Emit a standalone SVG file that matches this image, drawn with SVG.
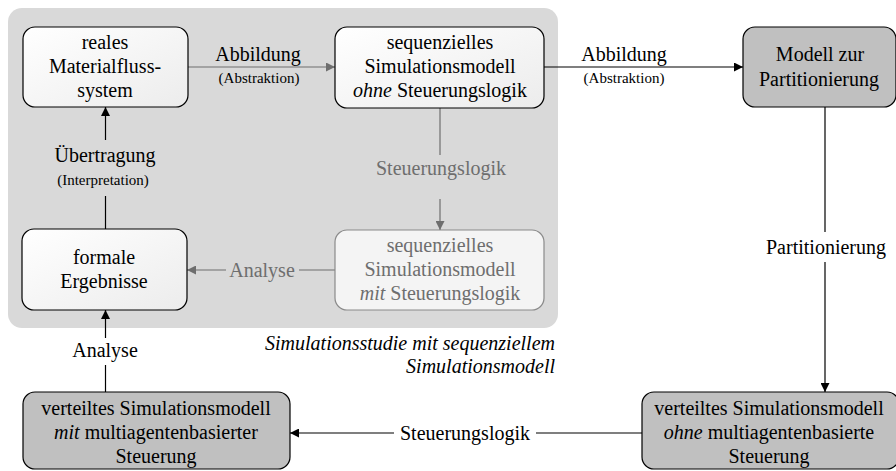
<svg xmlns="http://www.w3.org/2000/svg" width="896" height="471" viewBox="0 0 896 471">
<defs>
<linearGradient id="gw" x1="0" y1="0" x2="1" y2="1">
<stop offset="0" stop-color="#ffffff"/>
<stop offset="1" stop-color="#ececec"/>
</linearGradient>
<marker id="ab" viewBox="0 0 10 10" refX="10" refY="5" markerWidth="9" markerHeight="9" markerUnits="userSpaceOnUse" orient="auto">
<path d="M0,0 L10,5 L0,10 z" fill="#000"/>
</marker>
<marker id="ag" viewBox="0 0 10 10" refX="10" refY="5" markerWidth="9" markerHeight="9" markerUnits="userSpaceOnUse" orient="auto">
<path d="M0,0 L10,5 L0,10 z" fill="#6e6e6e"/>
</marker>
</defs>
<style>
text{font-family:"Liberation Serif","Noto Serif","Nimbus Roman","Nimbus Roman No9 L",FreeSerif,Times,"Noto Serif CJK SC","Noto Serif CJK JP",serif;font-size:20px;text-anchor:middle;fill:#000}
.s{font-size:15px}
.g{fill:#6e6e6e}
.i{font-style:italic}
.c{text-anchor:end;font-style:italic}
.bw{fill:url(#gw);stroke:#000;stroke-width:1.2}
.bg{fill:#f4f4f4;stroke:#8a8a8a;stroke-width:1.2}
.bd{fill:#c0c0c0;stroke:#000;stroke-width:1.2}
.l{fill:none;stroke:#000;stroke-width:1.2}
.lg{fill:none;stroke:#6e6e6e;stroke-width:1.2}
</style>
<g id="container">
<rect x="8" y="8" width="550" height="320" rx="14" fill="#d9d9d9"/>
<text class="c" x="555" y="350">Simulationsstudie mit sequenziellem</text>
<text class="c" x="555" y="373">Simulationsmodell</text>
</g>
<g id="connectors">
<line class="lg" x1="188" y1="67" x2="335" y2="67" marker-end="url(#ag)"/>
<text x="258" y="61">Abbildung</text>
<text class="s" x="259" y="83">(Abstraktion)</text>
<line class="l" x1="544" y1="67" x2="743" y2="67" marker-end="url(#ab)"/>
<text x="624" y="61">Abbildung</text>
<text class="s" x="624" y="83">(Abstraktion)</text>
<line class="lg" x1="440" y1="108" x2="440" y2="155"/>
<line class="lg" x1="440" y1="199" x2="440" y2="230" marker-end="url(#ag)"/>
<text class="g" x="441" y="175">Steuerungslogik</text>
<line class="lg" x1="335" y1="270" x2="299" y2="270"/>
<line class="lg" x1="226" y1="270" x2="187" y2="270" marker-end="url(#ag)"/>
<text class="g" x="262" y="277">Analyse</text>
<line class="l" x1="105.5" y1="140" x2="105.5" y2="107" marker-end="url(#ab)"/>
<line class="l" x1="105.5" y1="229" x2="105.5" y2="196"/>
<text x="105" y="162">Übertragung</text>
<text class="s" x="103" y="185">(Interpretation)</text>
<line class="l" x1="825" y1="107" x2="825" y2="232"/>
<line class="l" x1="825" y1="262" x2="825" y2="392" marker-end="url(#ab)"/>
<text x="826" y="254">Partitionierung</text>
<line class="l" x1="642" y1="433" x2="536" y2="433"/>
<line class="l" x1="394" y1="433" x2="290" y2="433" marker-end="url(#ab)"/>
<text x="465" y="440">Steuerungslogik</text>
<line class="l" x1="105.5" y1="392" x2="105.5" y2="365"/>
<line class="l" x1="105.5" y1="338" x2="105.5" y2="310" marker-end="url(#ab)"/>
<text x="105" y="357">Analyse</text>
</g>
<g id="n-real">
<rect class="bw" x="23" y="27" width="165" height="80" rx="12"/>
<text x="105" y="49">reales</text>
<text x="105" y="73">Materialfluss-</text>
<text x="105" y="97">system</text>
</g>
<g id="n-seq-ohne">
<rect class="bw" x="335" y="27" width="209" height="81" rx="12"/>
<text x="440" y="49">sequenzielles</text>
<text x="440" y="73">Simulationsmodell</text>
<text x="440" y="97"><tspan class="i">ohne</tspan> Steuerungslogik</text>
</g>
<g id="n-seq-mit">
<rect class="bg" x="335" y="230" width="209" height="80" rx="12"/>
<text class="g" x="440" y="252">sequenzielles</text>
<text class="g" x="440" y="276">Simulationsmodell</text>
<text class="g" x="440" y="300"><tspan class="i">mit</tspan> Steuerungslogik</text>
</g>
<g id="n-formal">
<rect class="bw" x="22" y="229" width="165" height="81" rx="12"/>
<text x="104" y="264">formale</text>
<text x="104" y="288">Ergebnisse</text>
</g>
<g id="n-partition">
<rect class="bd" x="743" y="27" width="153" height="80" rx="12"/>
<text x="820" y="61">Modell zur</text>
<text x="819" y="86">Partitionierung</text>
</g>
<g id="n-vert-ohne">
<rect class="bd" x="642" y="392" width="257" height="77" rx="12"/>
<text x="769" y="415">verteiltes Simulationsmodell</text>
<text x="769" y="439"><tspan class="i">ohne</tspan> multiagentenbasierte</text>
<text x="769" y="463">Steuerung</text>
</g>
<g id="n-vert-mit">
<rect class="bd" x="23" y="392" width="267" height="77" rx="12"/>
<text x="156" y="415">verteiltes Simulationsmodell</text>
<text x="156" y="439"><tspan class="i">mit</tspan> multiagentenbasierter</text>
<text x="156" y="463">Steuerung</text>
</g>
</svg>
